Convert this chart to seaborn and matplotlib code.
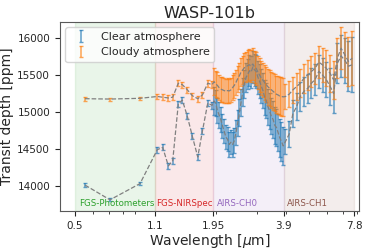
import numpy as np
import pandas as pd
import matplotlib
matplotlib.use('Agg')
import matplotlib.pyplot as plt
import matplotlib.ticker as mticker
import seaborn as sns

# Longitudes de onda (um) por instrumento
wl_phot = [0.552, 0.706, 0.949]
wl_nirspec = [1.125, 1.186, 1.254, 1.309, 1.383, 1.439, 1.512, 1.588, 1.675, 1.753, 1.848, 1.928]
wl_ch0 = [1.966, 1.999, 2.032, 2.066, 2.101, 2.136, 2.172, 2.208, 2.245, 2.283,
          2.321, 2.360, 2.399, 2.439, 2.480, 2.522, 2.564, 2.607, 2.650, 2.695,
          2.740, 2.786, 2.832, 2.880, 2.928, 2.977, 3.027, 3.077, 3.129, 3.181,
          3.234, 3.289, 3.344, 3.400, 3.456, 3.514, 3.573, 3.633, 3.694, 3.755,
          3.818, 3.882]
wl_ch1 = [3.970, 4.118, 4.271, 4.429, 4.594, 4.765, 4.942, 5.126, 5.316, 5.514,
          5.719, 5.931, 6.152, 6.380, 6.617, 6.863, 7.119, 7.383, 7.658]

# Profundidad de transito (ppm) - atmosfera clara
clear_phot = [14010, 13810, 14030]
clear_nirspec = [14490, 14520, 14270, 14340, 15110, 15160, 14940, 14670, 14390, 14740, 15120, 15090]
clear_ch0 = [15150, 15120, 15020, 14960, 14900, 14810, 14740, 14660, 14630, 14560,
             14590, 14560, 14610, 14720, 14850, 14990, 15130, 15270, 15380, 15470,
             15510, 15560, 15540, 15610, 15570, 15550, 15470, 15420, 15350, 15290,
             15200, 15150, 15070, 15010, 14940, 14900, 14820, 14790, 14720, 14650,
             14600, 14540]
clear_ch1 = [14600, 14700, 14980, 15070, 15210, 15280, 15320, 15390, 15440, 15550,
             15500, 15440, 15350, 15250, 15660, 15760, 15700, 15620, 15640]

# Profundidad de transito (ppm) - atmosfera nublada
cloudy_phot = [15180, 15175, 15185]
cloudy_nirspec = [15210, 15200, 15190, 15200, 15390, 15370, 15300, 15220, 15180, 15230, 15390, 15370]
cloudy_ch0 = [15410, 15380, 15360, 15330, 15310, 15300, 15290, 15280, 15290, 15285,
              15300, 15330, 15360, 15400, 15450, 15490, 15540, 15570, 15600, 15610,
              15630, 15640, 15620, 15650, 15610, 15590, 15540, 15500, 15460, 15430,
              15400, 15370, 15340, 15320, 15300, 15280, 15260, 15240, 15230, 15215,
              15210, 15205]
cloudy_ch1 = [15209, 15241, 15299, 15344, 15390, 15458, 15503, 15548, 15593, 15675,
              15638, 15593, 15526, 15435, 15729, 15864, 15774, 15683, 15729]

# Incertidumbres (ppm)
err_phot = [25, 20, 20]
err_nirspec = [40, 40, 40, 40, 40, 40, 40, 42, 42, 45, 45, 45]
err_ch0 = [185, 180, 175, 172, 170, 168, 166, 165, 165, 165,
           165, 166, 168, 170, 175, 180, 185, 190, 195, 200,
           205, 210, 215, 218, 220, 222, 225, 228, 230, 232,
           235, 238, 240, 242, 245, 248, 250, 252, 255, 258,
           260, 262]
err_ch1 = [170, 175, 180, 185, 190, 195, 200, 205, 210, 220,
           230, 240, 250, 260, 270, 285, 305, 335, 370]

bands = ['FGS-Photometers', 'FGS-NIRSpec', 'AIRS-CH0', 'AIRS-CH1']
band_edges = [0.5, 1.1, 1.95, 3.9, 7.8]
band_colors = ['tab:green', 'tab:red', 'tab:purple', 'tab:brown']
band_text_x = [0.52, 1.11, 2.02, 4.04]

df = pd.DataFrame({
    'wl': wl_phot + wl_nirspec + wl_ch0 + wl_ch1,
    'clear': clear_phot + clear_nirspec + clear_ch0 + clear_ch1,
    'cloudy': cloudy_phot + cloudy_nirspec + cloudy_ch0 + cloudy_ch1,
    'err': err_phot + err_nirspec + err_ch0 + err_ch1,
})

sns.set_style('ticks', {'axes.edgecolor': '0.35'})
fig = plt.figure(figsize=(3.74, 2.49), dpi=100)
ax = fig.add_axes([0.160, 0.153, 0.800, 0.759])

for i in range(len(bands)):
    ax.axvspan(band_edges[i], band_edges[i + 1], color=band_colors[i], alpha=0.1)
    ax.text(band_text_x[i], 13760, bands[i], color=band_colors[i], fontsize=6.2, va='center')

ax.errorbar(df['wl'], df['clear'], yerr=df['err'], fmt='none', ecolor='tab:blue',
            alpha=0.7, capsize=1.5, elinewidth=1.1, label='Clear atmosphere', zorder=2)
ax.errorbar(df['wl'], df['cloudy'], yerr=df['err'], fmt='none', ecolor='tab:orange',
            alpha=0.7, capsize=1.5, elinewidth=1.1, label='Cloudy atmosphere', zorder=2)

sns.lineplot(data=df, x='wl', y='clear', ax=ax, color='gray', linestyle='--', lw=0.9, zorder=3)
sns.lineplot(data=df, x='wl', y='cloudy', ax=ax, color='gray', linestyle='--', lw=0.9, zorder=3)

ax.set_xscale('log')
ax.set_xlim(0.431, 8.19)
ax.set_ylim(13660, 16220)
ax.xaxis.set_major_locator(mticker.FixedLocator(band_edges))
ax.xaxis.set_major_formatter(mticker.FixedFormatter(['0.5', '1.1', '1.95', '3.9', '7.8']))
ax.xaxis.set_minor_formatter(mticker.NullFormatter())
ax.set_yticks([14000, 14500, 15000, 15500, 16000])
ax.tick_params(labelsize=7.5)

ax.set_title('WASP-101b', fontsize=11.5, pad=3)
ax.set_xlabel(r'Wavelength [$\mu$m]', fontsize=10, labelpad=1)
ax.set_ylabel('Transit depth [ppm]', fontsize=10, labelpad=2)
ax.legend(loc='upper left', fontsize=8)

plt.savefig('out.png', dpi=100)
plt.close()
